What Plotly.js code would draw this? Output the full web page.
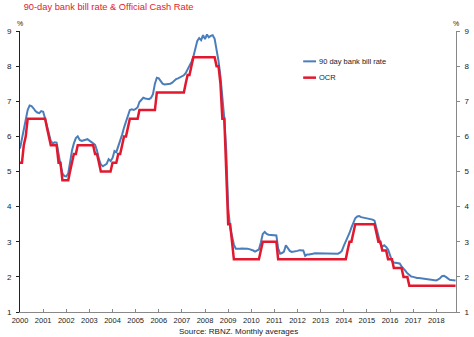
<!DOCTYPE html>
<html>
<head>
<meta charset="utf-8">
<script src="https://cdn.plot.ly/plotly-3.0.1.min.js"></script>
<style>
html,body{margin:0;padding:0;background:#fff;}
#chart{width:474px;height:337px;}
</style>
</head>
<body>
<div id="chart"></div>
<script>
// Monthly data, Jan 2000 - Nov 2018
const startYear = 2000;
const bankBill = [
  5.65, 5.95, 6.2, 6.45, 6.75, 6.88, 6.86, 6.8, 6.72, 6.68, 6.66, 6.72,   // 2000
  6.7, 6.5, 6.28, 6.05, 5.87, 5.8, 5.83, 5.82, 5.45, 5.2, 4.95, 4.87,     // 2001
  4.86, 4.95, 5.25, 5.6, 5.8, 5.95, 6.0, 5.9, 5.87, 5.88, 5.9, 5.92,      // 2002
  5.88, 5.85, 5.8, 5.76, 5.6, 5.35, 5.2, 5.15, 5.18, 5.22, 5.35, 5.3,     // 2003
  5.38, 5.58, 5.55, 5.7, 5.85, 6.05, 6.25, 6.42, 6.6, 6.75, 6.77, 6.75,   // 2004
  6.78, 6.83, 6.98, 7.05, 7.1, 7.08, 7.07, 7.06, 7.1, 7.2, 7.5, 7.67,     // 2005
  7.65, 7.56, 7.5, 7.48, 7.48, 7.48, 7.5, 7.53, 7.58, 7.63, 7.65, 7.68,   // 2006
  7.72, 7.74, 7.8, 7.9, 8.0, 8.12, 8.27, 8.5, 8.72, 8.8, 8.74, 8.88,      // 2007
  8.77, 8.9, 8.82, 8.86, 8.88, 8.78, 8.5, 8.15, 7.7, 7.15, 6.5, 5.6,      // 2008
  3.95, 3.4, 3.12, 2.92, 2.8, 2.79, 2.8, 2.81, 2.81, 2.82, 2.8, 2.79,     // 2009
  2.78, 2.75, 2.72, 2.74, 2.78, 2.98, 3.22, 3.28, 3.22, 3.2, 3.2, 3.2,    // 2010
  3.19, 3.18, 2.81, 2.66, 2.68, 2.72, 2.9, 2.82, 2.74, 2.71, 2.72, 2.71,  // 2011
  2.74, 2.76, 2.75, 2.75, 2.6, 2.64, 2.64, 2.64, 2.66, 2.67, 2.67, 2.66,  // 2012
  2.66, 2.66, 2.66, 2.66, 2.66, 2.66, 2.65, 2.66, 2.66, 2.66, 2.69, 2.74, // 2013
  2.88, 3.0, 3.1, 3.25, 3.4, 3.55, 3.67, 3.72, 3.73, 3.7, 3.69, 3.67,     // 2014
  3.66, 3.66, 3.65, 3.63, 3.6, 3.4, 3.15, 2.95, 2.86, 2.9, 2.85, 2.78,    // 2015
  2.62, 2.45, 2.41, 2.4, 2.4, 2.38, 2.3, 2.22, 2.17, 2.1, 2.04, 2.01,     // 2016
  2.0, 1.98, 1.97, 1.97, 1.96, 1.95, 1.95, 1.94, 1.93, 1.93, 1.92, 1.9,   // 2017
  1.9, 1.93, 1.96, 2.02, 2.03, 2.0, 1.95, 1.92, 1.91, 1.91, 1.9           // 2018
];
const ocr = [
  5.25, 5.25, 5.75, 6.0, 6.5, 6.5, 6.5, 6.5, 6.5, 6.5, 6.5, 6.5,          // 2000
  6.5, 6.5, 6.25, 6.0, 5.75, 5.75, 5.75, 5.75, 5.25, 5.25, 4.75, 4.75,    // 2001
  4.75, 4.75, 5.0, 5.25, 5.5, 5.5, 5.75, 5.75, 5.75, 5.75, 5.75, 5.75,    // 2002
  5.75, 5.75, 5.75, 5.5, 5.5, 5.25, 5.0, 5.0, 5.0, 5.0, 5.0, 5.0,         // 2003
  5.25, 5.25, 5.25, 5.5, 5.5, 5.75, 6.0, 6.0, 6.25, 6.5, 6.5, 6.5,        // 2004
  6.5, 6.5, 6.75, 6.75, 6.75, 6.75, 6.75, 6.75, 6.75, 6.75, 6.75, 7.25,   // 2005
  7.25, 7.25, 7.25, 7.25, 7.25, 7.25, 7.25, 7.25, 7.25, 7.25, 7.25, 7.25, // 2006
  7.25, 7.25, 7.5, 7.75, 7.75, 8.0, 8.25, 8.25, 8.25, 8.25, 8.25, 8.25,   // 2007
  8.25, 8.25, 8.25, 8.25, 8.25, 8.25, 8.0, 8.0, 7.5, 6.5, 6.5, 5.0,       // 2008
  3.5, 3.5, 3.0, 2.5, 2.5, 2.5, 2.5, 2.5, 2.5, 2.5, 2.5, 2.5,             // 2009
  2.5, 2.5, 2.5, 2.5, 2.5, 2.75, 3.0, 3.0, 3.0, 3.0, 3.0, 3.0,            // 2010
  3.0, 3.0, 2.5, 2.5, 2.5, 2.5, 2.5, 2.5, 2.5, 2.5, 2.5, 2.5,             // 2011
  2.5, 2.5, 2.5, 2.5, 2.5, 2.5, 2.5, 2.5, 2.5, 2.5, 2.5, 2.5,             // 2012
  2.5, 2.5, 2.5, 2.5, 2.5, 2.5, 2.5, 2.5, 2.5, 2.5, 2.5, 2.5,             // 2013
  2.5, 2.5, 2.75, 3.0, 3.0, 3.25, 3.5, 3.5, 3.5, 3.5, 3.5, 3.5,           // 2014
  3.5, 3.5, 3.5, 3.5, 3.5, 3.25, 3.0, 3.0, 2.75, 2.75, 2.75, 2.5,         // 2015
  2.5, 2.5, 2.25, 2.25, 2.25, 2.25, 2.25, 2.0, 2.0, 2.0, 1.75, 1.75,      // 2016
  1.75, 1.75, 1.75, 1.75, 1.75, 1.75, 1.75, 1.75, 1.75, 1.75, 1.75, 1.75, // 2017
  1.75, 1.75, 1.75, 1.75, 1.75, 1.75, 1.75, 1.75, 1.75, 1.75, 1.75        // 2018
];
const seriesNames = ['90 day bank bill rate', 'OCR'];
const yTicks = [1, 2, 3, 4, 5, 6, 7, 8, 9];

// monthly date labels
const months = [];
for (let i = 0; i < bankBill.length; i++) {
  const y = startYear + Math.floor(i / 12);
  const m = (i % 12) + 1;
  months.push(y + '-' + (m < 10 ? '0' + m : m) + '-01');
}

const BLUE = '#4a7ebb';
const RED = '#e2192e';
const FONT = 'Liberation Sans, Arial, sans-serif';

const traces = [
  {x: months, y: bankBill, type: 'scatter', mode: 'lines', name: seriesNames[0],
   line: {color: BLUE, width: 2}, yaxis: 'y', hoverinfo: 'skip'},
  {x: months, y: ocr, type: 'scatter', mode: 'lines', name: seriesNames[1],
   line: {color: RED, width: 2.5}, yaxis: 'y2', hoverinfo: 'skip'}
];

const yCommon = {
  range: [1, 9], tickvals: yTicks, ticktext: yTicks.map(String),
  showgrid: false, zeroline: false, showline: true,
  ticks: 'outside', ticklen: 3, tickwidth: 1, ticklabelstandoff: 3,
  tickfont: {family: FONT, size: 8, color: '#222'}, fixedrange: true
};

const layout = {
  width: 474, height: 337,
  margin: {l: 19.5, r: 18, t: 30.7, b: 25.3, pad: 0},
  paper_bgcolor: '#fff', plot_bgcolor: '#fff',
  showlegend: false,
  title: {text: '90-day bank bill rate &amp; Official Cash Rate',
          x: 4 / 474, xanchor: 'left', xref: 'paper', y: 1 - 7 / 337, yanchor: 'middle', yref: 'container',
          font: {family: FONT, size: 9.3, color: RED}},
  xaxis: {
    type: 'date', range: ['2000-01-01', '2018-11-08'],
    tick0: '2000-01-01', dtick: 'M12', tickformat: '%Y',
    showgrid: false, zeroline: false, showline: true, linecolor: '#888', linewidth: 1,
    ticks: 'inside', ticklen: 3, tickcolor: '#888', ticklabelstandoff: 1,
    tickfont: {family: FONT, size: 7.5, color: '#222'}, fixedrange: true
  },
  yaxis: Object.assign({}, yCommon, {side: 'left', linecolor: '#222', tickcolor: '#222', linewidth: 1}),
  yaxis2: Object.assign({}, yCommon, {side: 'right', overlaying: 'y', linecolor: '#888', tickcolor: '#888', linewidth: 1}),
  shapes: [
    {type: 'line', xref: 'paper', yref: 'paper', x0: 0.6495, x1: 0.679, y0: 0.892, y1: 0.892,
     line: {color: BLUE, width: 2}},
    {type: 'line', xref: 'paper', yref: 'paper', x0: 0.6495, x1: 0.679, y0: 0.834, y1: 0.834,
     line: {color: RED, width: 2.5}}
  ],
  annotations: [
    {text: seriesNames[0], xref: 'paper', yref: 'paper', x: 0.682, y: 0.892, xanchor: 'left', yanchor: 'middle',
     showarrow: false, font: {family: FONT, size: 7.5, color: '#222'}},
    {text: seriesNames[1], xref: 'paper', yref: 'paper', x: 0.682, y: 0.834, xanchor: 'left', yanchor: 'middle',
     showarrow: false, font: {family: FONT, size: 7.5, color: '#222'}},
    {text: 'Source: RBNZ. Monthly averages', xref: 'paper', yref: 'paper', x: 0.5, y: -0.068,
     xanchor: 'center', yanchor: 'middle', showarrow: false, borderpad: 0,
     font: {family: FONT, size: 8, color: '#222'}},
    {text: '%', xref: 'paper', yref: 'paper', x: 0.001, y: 1.027, xanchor: 'center', yanchor: 'middle',
     showarrow: false, font: {family: FONT, size: 7, color: '#222'}},
    {text: '%', xref: 'paper', yref: 'paper', x: 0.999, y: 1.027, xanchor: 'center', yanchor: 'middle',
     showarrow: false, font: {family: FONT, size: 7, color: '#222'}}
  ]
};

Plotly.newPlot('chart', traces, layout, {staticPlot: true, displayModeBar: false});
</script>
</body>
</html>
